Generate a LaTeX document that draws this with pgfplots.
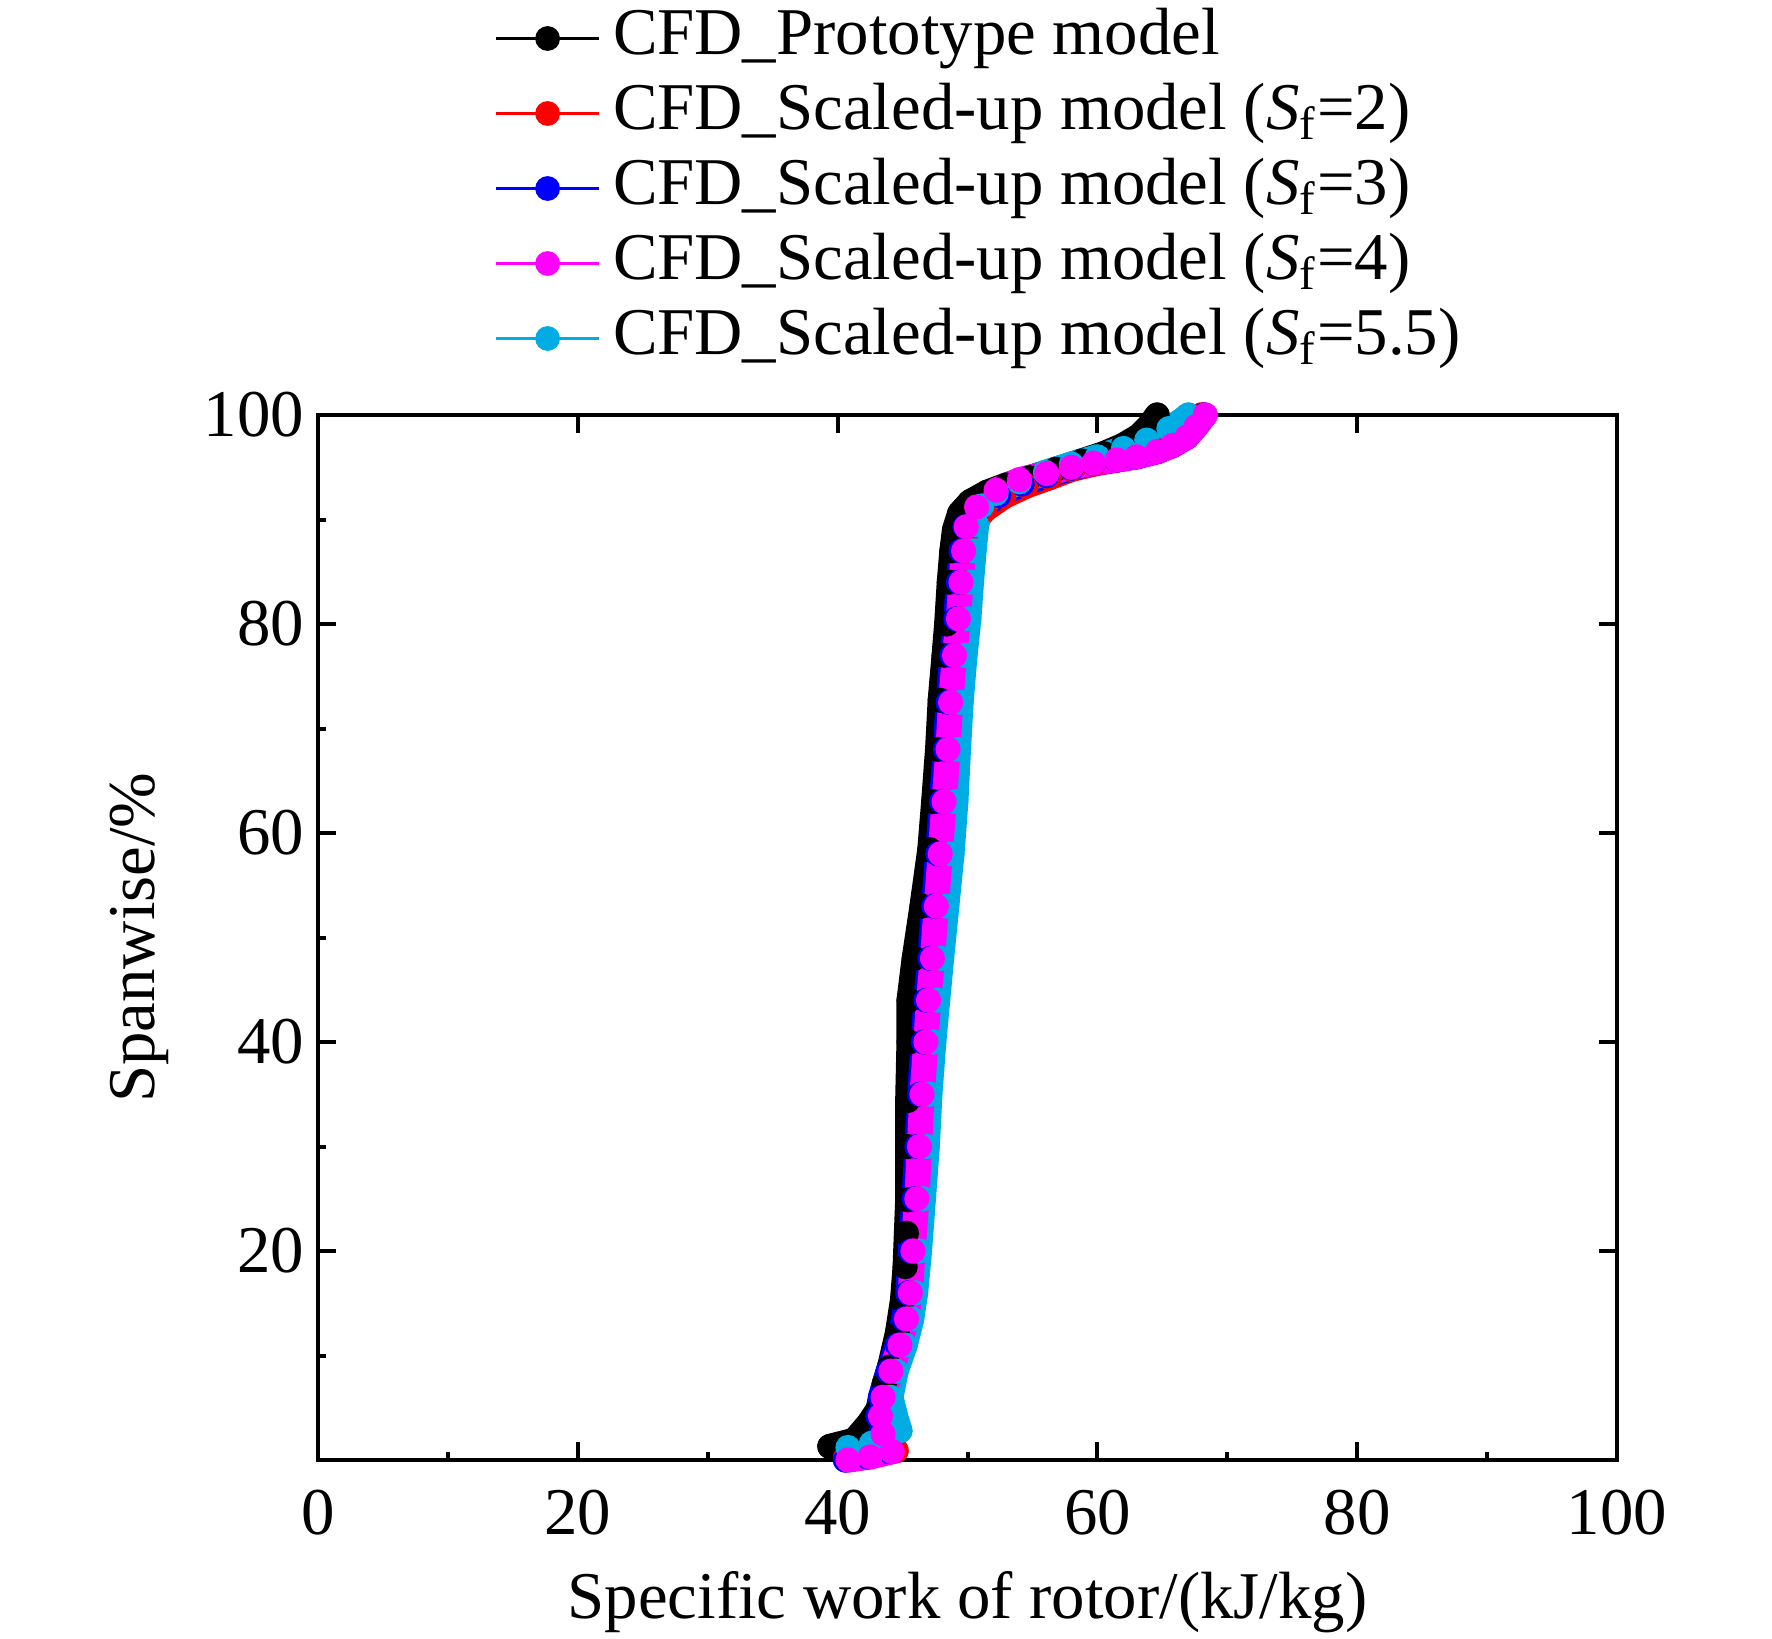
\documentclass[border=0pt]{standalone}
\usepackage{fontspec}
\setmainfont{Liberation Serif}
\usepackage{pgfplots}
\pgfplotsset{compat=1.18}
\definecolor{cfdcyan}{RGB}{0,172,228}
\definecolor{cfdmag}{RGB}{255,0,255}
\definecolor{cfdred}{RGB}{255,0,0}
\definecolor{cfdblue}{RGB}{0,0,255}
\newcommand{\fs}{\fontsize{16.7}{20}\selectfont}
\pgfplotsset{
  band/.style={line width=6.3pt, line join=round, line cap=round, mark=*, mark size=2.95pt,
    mark options={solid, line width=0.4pt}, forget plot},
  frame/.style={
    at={(0,0)}, anchor=south west, scale only axis,
    width=324.75pt, height=261.25pt,
    xmin=0, xmax=100, ymin=0, ymax=100,
    tick align=inside,
    axis line style={line width=1pt},
    every tick/.style={line width=1pt, black},
    major tick length=4.5pt, minor tick length=2pt,
  }
}
\begin{document}
\begin{tikzpicture}
\path[use as bounding box] (-79.5pt,-44.5pt) rectangle (363.5pt,365pt);
% top/right major ticks only
\begin{axis}[frame,
  xtick={0,20,...,100}, ytick={0,20,...,100},
  xtick pos=right, ytick pos=right,
  xticklabels={}, yticklabels={}]
\end{axis}
\begin{axis}[frame,
  clip=false,
  xtick={0,20,...,100}, ytick={20,40,...,100},
  minor xtick={10,30,...,90}, minor ytick={10,30,...,90},
  xtick pos=left, ytick pos=left,
  /pgf/number format/assume math mode=true,
  tick label style={font=\fs},
  xticklabel style={yshift=-4pt},
  xlabel={Specific work of rotor/(kJ/kg)},
  ylabel={Spanwise/\%},
  label style={font=\fs},
  xlabel style={at={(axis description cs:0.5,0)}, anchor=center, yshift=-35.6pt},
  ylabel style={at={(axis description cs:-0.1373,0.5)}, anchor=center},
  legend image code/.code={
    \draw[line width=0.8pt] (0pt,0pt) -- (25.75pt,0pt);
    \fill (12.9pt,0pt) circle (2.9pt);
  },
  legend style={at={(axis description cs:0.1358,1.3909)}, anchor=north west,
    draw=none, fill=none, inner sep=0pt, outer sep=0pt, row sep=2.75pt, column sep=1.6pt,
    font=\fs, cells={anchor=west},
    nodes={inner xsep=1.5pt, inner ysep=0pt, text height=12pt, text depth=4pt}},
]
% Prototype (black)
\addplot[color=black, band] coordinates {
(39.4,1.3) (41.3,1.9) (42.4,3.5) (43.1,4.8) (43.6,7.3) (44.0,8.9) (44.6,12.1)
(45.0,15.3) (45.2,18.5) (45.3,21.7) (45.4,24.9) (45.4,30.0) (45.4,34.4) (45.5,40.0)
(45.5,44.0) (45.9,48.0) (46.5,53.0) (47.1,58.4) (47.4,63.0) (47.7,68.0) (47.9,72.7)
(48.2,77.0) (48.4,80.0) (48.6,84.0) (48.8,87.0) (49.0,89.0) (49.4,90.6) (50.2,91.7)
(51.5,92.6) (53.0,93.3) (54.8,94.0) (56.8,94.8) (58.8,95.6) (60.5,96.3) (62.0,97.1)
(63.2,98.0) (64.0,99.0) (64.6,100.0)
};
% Sf=2 (red)
\addplot[color=cfdred, band] coordinates {
(40.6,0.2) (42.4,0.4) (44.5,0.9) (43.8,2.5) (43.6,4.2) (43.9,6.0) (44.4,8.5)
(45.0,11.0) (45.4,13.5) (45.7,16.0) (45.9,20.0) (46.1,25.0) (46.3,30.0) (46.5,35.0)
(46.8,40.0) (47.0,44.0) (47.3,48.0) (47.6,53.0) (47.9,58.0) (48.2,63.0) (48.5,68.0)
(48.7,72.5) (49.0,77.0) (49.3,80.5) (49.6,84.0) (49.9,87.0) (50.3,89.3) (51.3,90.9)
(52.8,92.2) (54.5,93.2) (56.3,94.0) (58.0,94.8) (59.7,95.3) (61.5,95.7) (63.0,96.1)
(64.6,96.6) (65.8,97.3) (66.8,98.1) (67.5,99.0) (68.0,100.0)
};
% Sf=3 (blue)
\addplot[color=cfdblue, band] coordinates {
(40.6,0.0) (42.3,0.3) (44.0,0.8) (43.3,2.5) (43.1,4.2) (43.3,6.0) (43.9,8.5)
(44.6,11.0) (45.1,13.5) (45.4,16.0) (45.6,20.0) (45.9,25.0) (46.1,30.0) (46.3,35.0)
(46.6,40.0) (46.8,44.0) (47.1,48.0) (47.4,53.0) (47.7,58.0) (48.0,63.0) (48.3,68.0)
(48.5,72.5) (48.8,77.0) (49.1,80.5) (49.3,84.0) (49.5,87.0) (49.8,89.3) (50.8,90.9)
(52.4,92.3) (54.2,93.4) (56.1,94.2) (58.0,94.9) (59.7,95.4) (61.5,95.7) (63.0,96.0)
(64.6,96.5) (65.8,97.1) (66.9,97.9) (67.6,98.9) (68.2,100.0)
};
% Sf=5.5 (cyan)
\addplot[color=cfdcyan, band] coordinates {
(40.8,1.2) (42.6,1.6) (44.8,2.8) (44.5,4.0) (44.1,6.0) (44.5,8.5) (45.2,11.0)
(45.7,13.5) (46.0,16.0) (46.3,20.0) (46.6,25.0) (46.9,30.0) (47.1,35.0) (47.4,40.0)
(47.7,44.0) (48.0,48.0) (48.4,53.0) (48.8,58.0) (49.1,63.0) (49.3,68.0) (49.5,72.5)
(49.8,77.0) (50.1,80.5) (50.3,84.0) (50.5,87.0) (50.7,89.5) (51.1,91.3) (52.2,92.5)
(54.0,93.6) (56.0,94.5) (58.0,95.3) (60.0,96.0) (62.0,96.8) (63.8,97.6) (65.5,98.7)
(66.5,99.5) (67.0,100.0)
};
% Sf=4 (magenta)
\addplot[color=cfdmag, band] coordinates {
(40.8,0.0) (42.5,0.3) (44.2,0.8) (43.5,2.5) (43.3,4.2) (43.5,6.0) (44.1,8.5)
(44.8,11.0) (45.3,13.5) (45.6,16.0) (45.8,20.0) (46.1,25.0) (46.3,30.0) (46.5,35.0)
(46.8,40.0) (47.0,44.0) (47.3,48.0) (47.6,53.0) (47.9,58.0) (48.2,63.0) (48.5,68.0)
(48.7,72.5) (49.0,77.0) (49.3,80.5) (49.5,84.0) (49.7,87.0) (49.9,89.3) (50.7,91.2)
(52.2,92.8) (54.0,93.8) (56.1,94.4) (58.0,95.0) (59.7,95.4) (61.5,95.7) (63.0,96.0)
(64.6,96.5) (65.8,97.1) (66.9,97.9) (67.6,98.9) (68.3,100.0)
};
\addlegendimage{color=black}
\addlegendentry{CFD\_Prototype model}
\addlegendimage{color=cfdred}
\addlegendentry{CFD\_Scaled-up model (\textit{S}\textsubscript{f}=2)}
\addlegendimage{color=cfdblue}
\addlegendentry{CFD\_Scaled-up model (\textit{S}\textsubscript{f}=3)}
\addlegendimage{color=cfdmag}
\addlegendentry{CFD\_Scaled-up model (\textit{S}\textsubscript{f}=4)}
\addlegendimage{color=cfdcyan}
\addlegendentry{CFD\_Scaled-up model (\textit{S}\textsubscript{f}=5.5)}
\end{axis}
\end{tikzpicture}
\end{document}
